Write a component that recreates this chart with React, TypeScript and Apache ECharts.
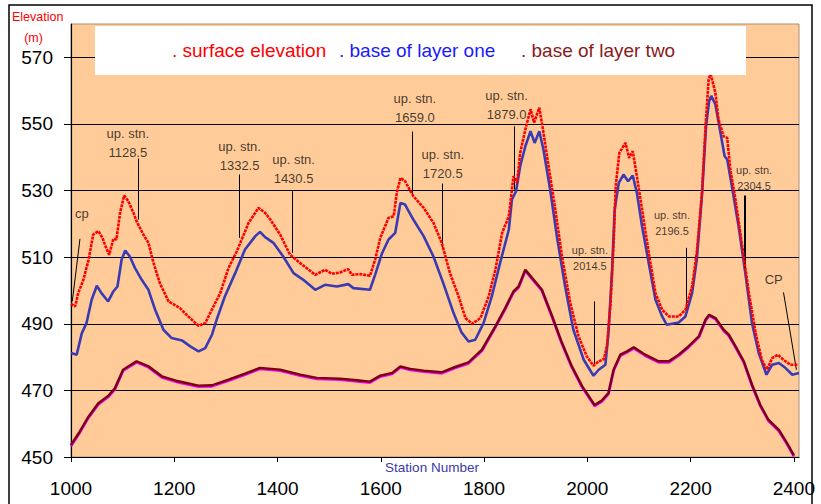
import React, { useEffect, useRef } from "react";
import * as echarts from "echarts";

const FONT = "'Liberation Sans', Arial, sans-serif";

const xTickLabels = [1000, 1200, 1400, 1600, 1800, 2000, 2200, 2400];
const yTickLabels = [450, 470, 490, 510, 530, 550, 570];

const seriesNames = ["surface elevation", "base of layer one", "base of layer two"];

const surfaceStations = [
  1000, 1008, 1014, 1024, 1034, 1043, 1053, 1061, 1067, 1074, 1082, 1088, 1095, 1103, 1111, 1121, 1127, 1140, 1150, 1159,
  1172, 1189, 1211, 1227, 1247, 1260, 1276, 1289, 1305, 1321, 1344, 1363, 1376, 1386, 1405, 1424, 1444, 1473, 1492, 1505,
  1521, 1537, 1544, 1560, 1579, 1589, 1599, 1615, 1625, 1631, 1638, 1647, 1663, 1683, 1702, 1718, 1734, 1750, 1764, 1777,
  1793, 1809, 1822, 1835, 1848, 1857, 1864, 1870, 1880, 1890, 1897, 1907, 1913, 1925, 1938, 1951, 1967, 1983, 1999, 2012,
  2022, 2032, 2038, 2045, 2051, 2055, 2062, 2074, 2081, 2088, 2096, 2106, 2119, 2132, 2145, 2158, 2177, 2190, 2203, 2212,
  2222, 2229, 2235, 2239, 2248, 2254, 2264, 2271, 2277, 2287, 2300, 2313, 2326, 2338, 2348, 2358, 2369, 2380, 2393, 2408,
];
const surfaceValues = [
  496, 495.2, 499.2, 503.2, 509.2, 516.8, 517.8, 515.8, 513.2, 510.7, 515.5, 515.3, 523.3, 528.5, 526.8, 523.3, 520.8, 516.8, 514.3, 508.7,
  502.2, 496.7, 494.7, 492.2, 489.4, 490.2, 495.2, 499.2, 506.7, 511.7, 520.3, 524.8, 523.3, 521.3, 516.8, 510.8, 508.2, 504.7, 506.2, 505,
  505.4, 506.4, 504.7, 504.9, 504.4, 509.2, 515.8, 521.8, 522.3, 529.3, 533.8, 532.8, 528.3, 524.8, 520.3, 514.3, 505.2, 498.5, 491.7, 490,
  491.7, 498.2, 506.2, 517.3, 522.3, 534.3, 532.3, 541.3, 548.3, 554.4, 550.4, 554.9, 549.4, 537.3, 524.3, 510.2, 496.2, 486.2, 480.2, 477.4,
  478.7, 479.4, 483.2, 496.2, 514.3, 531.3, 541.3, 544.3, 539.8, 541.8, 534.3, 524.3, 511.3, 499.2, 494.2, 492.2, 492.2, 494.2, 501.2, 511.3,
  529.3, 549.3, 563.4, 564.9, 559.4, 551.4, 546.3, 545.8, 536.3, 527.3, 513.3, 499.2, 487.2, 479.2, 476.2, 479.7, 480.7, 479.2, 477.7, 477.7,
];

const layerOneStations = [
  1000, 1011, 1021, 1030, 1040, 1050, 1059, 1072, 1082, 1090, 1098, 1105, 1114, 1124, 1137, 1150, 1163, 1179, 1195, 1215,
  1231, 1247, 1260, 1273, 1282, 1298, 1318, 1337, 1357, 1366, 1376, 1392, 1411, 1431, 1450, 1473, 1492, 1515, 1537, 1547,
  1579, 1589, 1602, 1615, 1628, 1638, 1647, 1663, 1683, 1702, 1721, 1741, 1756, 1770, 1783, 1799, 1815, 1831, 1848, 1854,
  1862, 1870, 1880, 1890, 1898, 1907, 1915, 1928, 1941, 1957, 1973, 1993, 2012, 2022, 2035, 2041, 2048, 2053, 2061, 2070,
  2079, 2088, 2096, 2106, 2119, 2132, 2145, 2154, 2177, 2190, 2203, 2212, 2222, 2230, 2236, 2240, 2248, 2258, 2266, 2271,
  2280, 2293, 2306, 2319, 2332, 2347, 2358, 2371, 2384, 2397, 2410,
];
const layerOneValues = [
  481.2, 480.7, 487.2, 490.2, 497.2, 501.4, 499.2, 496.7, 499.7, 501.2, 509.2, 512, 510.2, 506.7, 503.2, 500.2, 494.2, 488.2, 485.7, 485,
  483.2, 481.7, 482.7, 486.7, 491.2, 498.2, 505.2, 512.3, 516.3, 517.6, 516, 514.3, 510.2, 505.2, 503.2, 500.2, 501.7, 501.2, 501.9, 500.7,
  500.2, 504.7, 511, 515.3, 517.3, 526.3, 525.8, 521.3, 516.3, 510.2, 502.2, 493.2, 487.5, 484.7, 485.2, 490.2, 498.2, 508.2, 518.3, 527.3,
  529.8, 537.3, 543.3, 547.8, 544.3, 547.8, 542.3, 530.3, 516.3, 501.2, 488.2, 479.2, 474.4, 476.2, 477.7, 487.2, 506.2, 524.3, 532.3, 534.8,
  532.8, 534.5, 529.3, 519.3, 508.2, 497.2, 492.2, 489.7, 490.4, 492.2, 499.2, 509.2, 528.3, 549.3, 556.9, 558.4, 555.9, 547.3, 540.3, 539.3,
  531.3, 519.3, 505.2, 490.2, 481.2, 474.7, 477.7, 478.2, 476.7, 474.7, 475.2,
];

const layerTwoStations = [
  1000, 1017, 1034, 1053, 1072, 1085, 1101, 1127, 1150, 1176, 1208, 1247, 1273, 1305, 1337, 1366, 1405, 1444, 1476, 1521,
  1554, 1579, 1599, 1622, 1638, 1657, 1683, 1718, 1744, 1770, 1796, 1822, 1841, 1857, 1867, 1880, 1896, 1912, 1932, 1951,
  1970, 1990, 2014, 2028, 2041, 2051, 2064, 2077, 2090, 2112, 2138, 2158, 2177, 2196, 2216, 2229, 2236, 2248, 2264, 2274,
  2287, 2303, 2319, 2335, 2351, 2371, 2387, 2400,
];
const layerTwoValues = [
  453.6, 457.6, 462.1, 466.1, 468.3, 470.6, 476.2, 478.7, 477.2, 474.2, 472.7, 471.4, 471.5, 473.2, 475, 476.7, 476.2, 474.7, 473.7, 473.5,
  473, 472.6, 474.4, 475.2, 477.2, 476.4, 475.9, 475.4, 477, 478.4, 482.2, 489.2, 494.7, 499.7, 501.2, 506.2, 503.2, 500.2, 492.2, 484.2,
  477.2, 471.2, 465.6, 466.9, 469.2, 476.2, 480.7, 481.7, 482.9, 480.7, 478.7, 478.7, 480.7, 483.2, 486.2, 491.2, 492.7, 491.7, 488.2, 486.7,
  483.2, 478.7, 471.7, 465.6, 461.1, 458.1, 454.1, 450.5,
];

// annotation labels (station, elevation) and leader lines [station1, elev1, station2, elev2]
const annotationTexts = [
  "cp", "up. stn.\n1128.5", "up. stn.\n1332.5", "up. stn.\n1430.5", "up. stn.\n1659.0", "up. stn.\n1720.5",
  "up. stn.\n1879.0", "up. stn.\n2014.5", "up. stn.\n2196.5", "up. stn.\n2304.5", "CP",
];
const annotationStations = [1021, 1110, 1326.5, 1431, 1666, 1720, 1843.6, 2005, 2164, 2323, 2361];
const annotationValues = [523.1, 544.2, 540.5, 536.6, 554.8, 538.1, 555.6, 509.6, 520.4, 533.7, 503.2];
const annotationSmall = [false, false, false, false, false, false, false, true, true, true, false];
const leaderLines = [
  [1017.4, 515.5, 1002.5, 496.7],
  [1130, 539.6, 1130, 521.3],
  [1325.6, 534.8, 1325.6, 515.8],
  [1428, 529.8, 1428, 511.3],
  [1661, 547.7, 1661, 528.8],
  [1719.5, 532.1, 1719.5, 512.8],
  [1859, 549.3, 1859, 530.3],
  [2013.6, 496.7, 2013.6, 477.7],
  [2192, 512.8, 2192, 494.2],
  [2305, 528.5, 2305, 506.5],
  [2380, 499.4, 2405, 476.2],
];

const zip = (xs: number[], ys: number[]) => xs.map((x, i) => [x, ys[i]]);

export default function App() {
  const ref = useRef<HTMLDivElement>(null);

  useEffect(() => {
    const chart = echarts.init(ref.current!, null, { renderer: "svg" });
    const option: any = {
      animation: false,
      backgroundColor: "#ffffff",
      textStyle: { fontFamily: FONT },
      grid: {
        left: 71,
        right: 22,
        top: 24,
        bottom: 47,
        show: true,
        backgroundColor: "#FFCC99",
        borderColor: "#A88C70",
        borderWidth: 1,
      },
      xAxis: {
        type: "value",
        min: 1000,
        max: 2410,
        interval: 200,
        axisLine: { show: true, onZero: false, lineStyle: { color: "#000", width: 1.2 } },
        axisTick: { show: true, length: 5, lineStyle: { color: "#000" }, customValues: xTickLabels },
        axisLabel: {
          customValues: xTickLabels,
          fontSize: 19,
          color: "#000",
          margin: 22,
          fontFamily: FONT,
          formatter: (v: number) => (v % 200 === 0 ? String(v) : ""),
        },
        splitLine: { show: false },
      },
      yAxis: {
        type: "value",
        min: 450,
        max: 580,
        interval: 20,
        axisLine: { show: true, onZero: false, lineStyle: { color: "#000", width: 1.2 } },
        axisTick: { show: true, length: 7, lineStyle: { color: "#000" }, customValues: yTickLabels },
        axisLabel: {
          customValues: yTickLabels,
          fontSize: 19,
          color: "#000",
          margin: 18,
          fontFamily: FONT,
          formatter: (v: number) => (v === 580 ? "" : String(v)),
        },
        splitLine: {
          show: true,
          lineStyle: {
            color: ["#000", "#000", "#000", "#000", "#000", "#000", "#000", "#A88C70"],
            width: 1.2,
          },
        },
      },
      series: [
        {
          name: seriesNames[2],
          type: "line",
          data: zip(layerTwoStations, layerTwoValues),
          showSymbol: false,
          symbol: "none",
          lineStyle: {
            color: "#7a0010",
            width: 2.6,
            shadowColor: "#ff00ff",
            shadowBlur: 0,
            shadowOffsetY: 1,
          },
          z: 3,
        },
        {
          name: seriesNames[1],
          type: "line",
          data: zip(layerOneStations, layerOneValues),
          symbol: "none",
          lineStyle: { color: "#3a3ab4", width: 2.6 },
          z: 4,
        },
        {
          name: seriesNames[0],
          type: "line",
          data: zip(surfaceStations, surfaceValues),
          symbol: "none",
          lineStyle: { color: "#ff0000", width: 2.6, type: [3, 0.9] },
          z: 5,
        },
        {
          name: "annotations",
          type: "scatter",
          silent: true,
          symbolSize: 1,
          itemStyle: { color: "rgba(0,0,0,0)" },
          z: 6,
          data: annotationStations.map((s, i) => ({
            value: [s, annotationValues[i]],
            label: {
              show: true,
              position: "inside",
              formatter: annotationTexts[i],
              fontSize: annotationSmall[i] ? 11 : 13,
              lineHeight: annotationSmall[i] ? 16 : 19,
              color: "#111",
              fontFamily: FONT,
            },
          })),
          markLine: {
            silent: true,
            symbol: "none",
            label: { show: false },
            emphasis: { disabled: true },
            data: leaderLines.map((l, i) => [
              {
                coord: [l[0], l[1]],
                lineStyle: { color: "#000", width: i === 9 ? 2 : 1, type: "solid" },
              },
              { coord: [l[2], l[3]] },
            ]),
          },
        },
      ],
      graphic: [
        {
          type: "rect",
          z: 100,
          shape: { x: 9, y: 5, width: 803, height: 520 },
          style: { fill: "none", stroke: "#000", lineWidth: 1.5 },
        },
        {
          type: "rect",
          z: 100,
          shape: { x: 95, y: 26, width: 651, height: 49 },
          style: { fill: "#ffffff" },
        },
        {
          type: "text",
          z: 101,
          x: 172,
          y: 50,
          style: { text: ". " + seriesNames[0], fill: "#ff0000", font: "19px " + FONT, verticalAlign: "middle" },
        },
        {
          type: "text",
          z: 101,
          x: 339,
          y: 50,
          style: { text: ". " + seriesNames[1], fill: "#1a1aff", font: "19px " + FONT, verticalAlign: "middle" },
        },
        {
          type: "text",
          z: 101,
          x: 521,
          y: 50,
          style: { text: ". " + seriesNames[2], fill: "#8b1a1a", font: "19px " + FONT, verticalAlign: "middle" },
        },
        {
          type: "text",
          z: 101,
          x: 12,
          y: 17,
          style: { text: "Elevation", fill: "#ff0000", font: "12.5px " + FONT, verticalAlign: "middle" },
        },
        {
          type: "text",
          z: 101,
          x: 33.5,
          y: 37.5,
          style: { text: "(m)", fill: "#ff0000", font: "12.5px " + FONT, verticalAlign: "middle", align: "center" },
        },
        {
          type: "text",
          z: 101,
          x: 432,
          y: 467,
          style: { text: "Station Number", fill: "#3b3ba8", font: "13.5px " + FONT, verticalAlign: "middle", align: "center" },
        },
      ],
    };
    chart.setOption(option);
    return () => chart.dispose();
  }, []);

  return (
    <div
      ref={ref}
      style={{ position: "absolute", left: 0, top: 0, width: 821, height: 504, background: "#fff" }}
    />
  );
}
